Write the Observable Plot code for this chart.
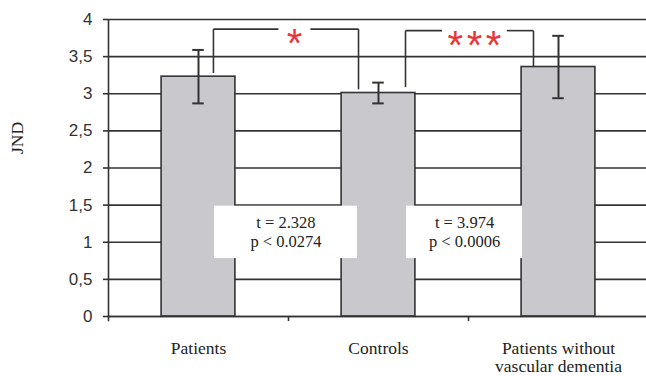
<!DOCTYPE html>
<html>
<head>
<meta charset="utf-8">
<script src="https://cdn.jsdelivr.net/npm/d3@7"></script>
<script src="https://cdn.jsdelivr.net/npm/@observablehq/plot@0.6"></script>
<style>
  html, body { margin: 0; padding: 0; background: #fff; }
  #chart svg { display: block; }
  .stars text { letter-spacing: 3.5px; }
</style>
</head>
<body>
<div id="chart"></div>
<script>
// ---- data ----
const categories = ["Patients", "Controls", "Patients without\nvascular dementia"];
const means = [3.23, 3.01, 3.36];
const errors = [0.36, 0.14, 0.42];
const yTicks = [0, 0.5, 1, 1.5, 2, 2.5, 3, 3.5, 4];

// significance comparisons (between category indices)
const compFrom = [0, 1];
const compTo = [1, 2];
const compStars = ["*", "***"];
const compT = ["2.328", "3.974"];
const compP = ["0.0274", "0.0006"];

const bars = categories.map((c, i) => ({i, c, v: means[i], lo: means[i] - errors[i], hi: means[i] + errors[i]}));

// bracket geometry in data units (annotation layout)
const brTop = [3.87, 3.85];
const brLeftOff = [0.083, 0.15];
const brRightOff = [-0.111, -0.139];
const brLeftBottom = [3.28, 3.09];
const brRightBottom = [3.06, 3.37];
const brGapHalf = [0.089, 0.18];
const boxLeftOff = [0.089, 0.156];
const boxRightOff = [-0.117, -0.2];

const comps = compFrom.map((f, k) => {
  const xl = f + brLeftOff[k], xr = compTo[k] + brRightOff[k];
  const xm = (f + compTo[k]) / 2 + 0.033;
  return {k, xl, xr, xm, top: brTop[k], lb: brLeftBottom[k], rb: brRightBottom[k],
    g1: xm - brGapHalf[k], g2: xm + brGapHalf[k],
    bx1: f + boxLeftOff[k], bx2: compTo[k] + boxRightOff[k],
    stars: compStars[k], label: `t = ${compT[k]}\np < ${compP[k]}`};
});

const segs = comps.flatMap(d => [
  {x1: d.xl, y1: d.lb, x2: d.xl, y2: d.top},
  {x1: d.xl, y1: d.top, x2: d.g1, y2: d.top},
  {x1: d.g2, y1: d.top, x2: d.xr, y2: d.top},
  {x1: d.xr, y1: d.top, x2: d.xr, y2: d.rb}
]);

const ink = "#333";
const serif = "'Liberation Serif', 'Times New Roman', serif";
const sans = "'Liberation Sans', Arial, sans-serif";

const chart = Plot.plot({
  width: 646,
  height: 376,
  marginLeft: 108,
  marginRight: 0,
  marginTop: 19,
  marginBottom: 60,
  x: {type: "linear", domain: [-0.5, 2.5], range: [108, 648]},
  y: {domain: [0, 4], range: [316, 19]},
  style: {background: "#fff", overflow: "visible"},
  marks: [
    // gridlines
    Plot.ruleY(yTicks, {x1: -0.5, x2: 2.5, stroke: ink, strokeWidth: 1.6}),
    // bars
    Plot.rectY(bars, {x1: d => d.i - 0.205, x2: d => d.i + 0.205, y1: 0, y2: "v", fill: "#c9c9cd", stroke: ink, strokeWidth: 1.6}),
    // error bars
    Plot.ruleX(bars, {x: "i", y1: "lo", y2: "hi", stroke: ink, strokeWidth: 2}),
    Plot.ruleY(bars, {y: "lo", x1: d => d.i - 0.032, x2: d => d.i + 0.032, stroke: ink, strokeWidth: 2}),
    Plot.ruleY(bars, {y: "hi", x1: d => d.i - 0.032, x2: d => d.i + 0.032, stroke: ink, strokeWidth: 2}),
    // y axis line
    Plot.ruleX([-0.5], {y1: -0.07, y2: 4, stroke: ink, strokeWidth: 1.6}),
    // bottom axis line
    Plot.ruleY([0], {x1: -0.5, x2: 2.5, stroke: ink, strokeWidth: 1.6}),
    // y axis
    Plot.axisY({ticks: yTicks, tickSize: 5, tickPadding: 11, tickFormat: d => String(d).replace(".", ","),
      fontSize: 17, fontFamily: sans, color: ink, stroke: ink, strokeWidth: 1.6, label: null}),
    Plot.text(["JND"], {frameAnchor: "left", dx: -91, dy: -14, rotate: -90, fontSize: 17.5, fontFamily: serif, fill: "#222"}),
    // x axis: boundary ticks and labels
    Plot.axisX({ticks: [0.5, 1.5], tickSize: 5, tickFormat: () => "", stroke: ink, strokeWidth: 1.6, label: null}),
    Plot.axisX({ticks: [0, 1, 2], tickSize: 0, tickPadding: 24, tickFormat: i => categories[i], fontSize: 17.5, fontFamily: serif, color: "#222", lineHeight: 1.05, label: null}),
    // brackets
    Plot.link(segs, {x1: "x1", y1: "y1", x2: "x2", y2: "y2", stroke: ink, strokeWidth: 1.6}),
    Plot.text(comps, {x: "xm", y: "top", text: "stars", fill: "#e8363a", fontSize: 40, fontFamily: sans, dy: 15.5, dx: 1.75, className: "stars"}),
    // stat boxes
    Plot.rect(comps, {x1: "bx1", x2: "bx2", y1: 0.78, y2: 1.486, fill: "#fff"}),
    Plot.text(comps, {x: d => (d.bx1 + d.bx2) / 2, y: 1.15, text: "label", fontSize: 16.5, fontFamily: serif, fill: "#222", lineHeight: 1.2})
  ]
});

document.getElementById("chart").appendChild(chart);
</script>
</body>
</html>
